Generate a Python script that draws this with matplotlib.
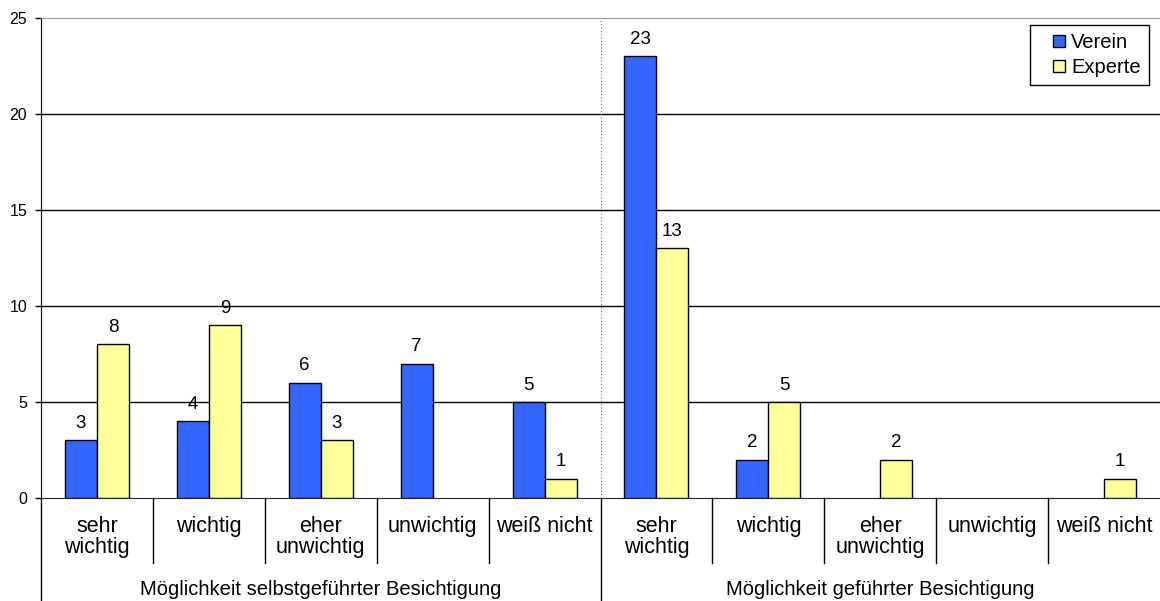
import matplotlib
matplotlib.use("Agg")
import matplotlib.pyplot as plt
from matplotlib.lines import Line2D
import numpy as np

plt.rcParams['font.family'] = ['Liberation Sans', 'DejaVu Sans']

categories = ["sehr\nwichtig", "wichtig", "eher\nunwichtig", "unwichtig", "weiß nicht",
              "sehr\nwichtig", "wichtig", "eher\nunwichtig", "unwichtig", "weiß nicht"]
groups = ["Möglichkeit selbstgeführter Besichtigung", "Möglichkeit geführter Besichtigung"]
verein = [3, 4, 6, 7, 5, 23, 2, 0, 0, 0]
experte = [8, 9, 3, 0, 1, 13, 5, 2, 0, 1]

blue = "#3366FF"
yellow = "#FFFF99"

fig = plt.figure(figsize=(11.6, 6.01), dpi=100)
ax = fig.add_axes([41 / 1160, 1 - 498 / 601, 1 - 41 / 1160, 480 / 601])

x = np.arange(len(categories))
w = 0.286
b1 = ax.bar(x - w / 2, verein, w, color=blue, edgecolor="black", linewidth=1, zorder=3)
b2 = ax.bar(x + w / 2, experte, w, color=yellow, edgecolor="black", linewidth=1, zorder=3)

for bars, vals in ((b1, verein), (b2, experte)):
    for r, v in zip(bars, vals):
        if v == 0:
            r.set_visible(False)
            continue
        ax.annotate(str(v), (r.get_x() + r.get_width() / 2, v), xytext=(0, 6),
                    textcoords="offset points", ha="center", va="bottom", fontsize=13.5)

ax.set_xlim(-0.5, len(categories) - 0.5)
ax.set_ylim(0, 25)
ax.set_yticks([0, 5, 10, 15, 20, 25])
ax.tick_params(axis="y", labelsize=11.5, length=4, width=1, pad=6)
ax.set_xticks([])
for yv in [5, 10, 15, 20]:
    ax.axhline(yv, color="black", linewidth=1, zorder=1)

ax.spines["right"].set_visible(False)
ax.spines["top"].set_color("#999999")
ax.spines["left"].set_color("black")
ax.spines["bottom"].set_color("#222222")

# dotted separator between the two groups
ax.axvline(4.5, color="#666666", linewidth=0.8, linestyle=(0, (1, 2)), zorder=2)

# category axis below
tr = ax.get_xaxis_transform()
for i in range(1, len(categories)):
    if i == 5:
        continue
    ax.plot([i - 0.5, i - 0.5], [0, -0.135], color="black", linewidth=1,
            transform=tr, clip_on=False)
for xs in (-0.5, 4.5):
    ax.plot([xs, xs], [0, -0.22], color="black", linewidth=1,
            transform=tr, clip_on=False)
for i, c in enumerate(categories):
    ax.text(i, -0.037, c, transform=tr, ha="center", va="top", fontsize=15.5,
            linespacing=1.0)
for g, xc in zip(groups, (2, 7)):
    ax.text(xc, -0.19, g, transform=tr, ha="center", va="center", fontsize=14.5)

handles = [Line2D([], [], marker="s", linestyle="none", markersize=8.5,
                  markerfacecolor=c, markeredgecolor="black", markeredgewidth=1)
           for c in (blue, yellow)]
leg = ax.legend(handles, ["Verein", "Experte"], loc="upper right",
                bbox_to_anchor=(1 - 11 / 1119, 1 - 7 / 480), fancybox=False,
                edgecolor="black", framealpha=1, fontsize=14.5, handlelength=2.1,
                handletextpad=-0.45, borderpad=0.4, labelspacing=0.3,
                borderaxespad=0)
leg.get_frame().set_linewidth(1)

fig.savefig("out.png", dpi=100)
